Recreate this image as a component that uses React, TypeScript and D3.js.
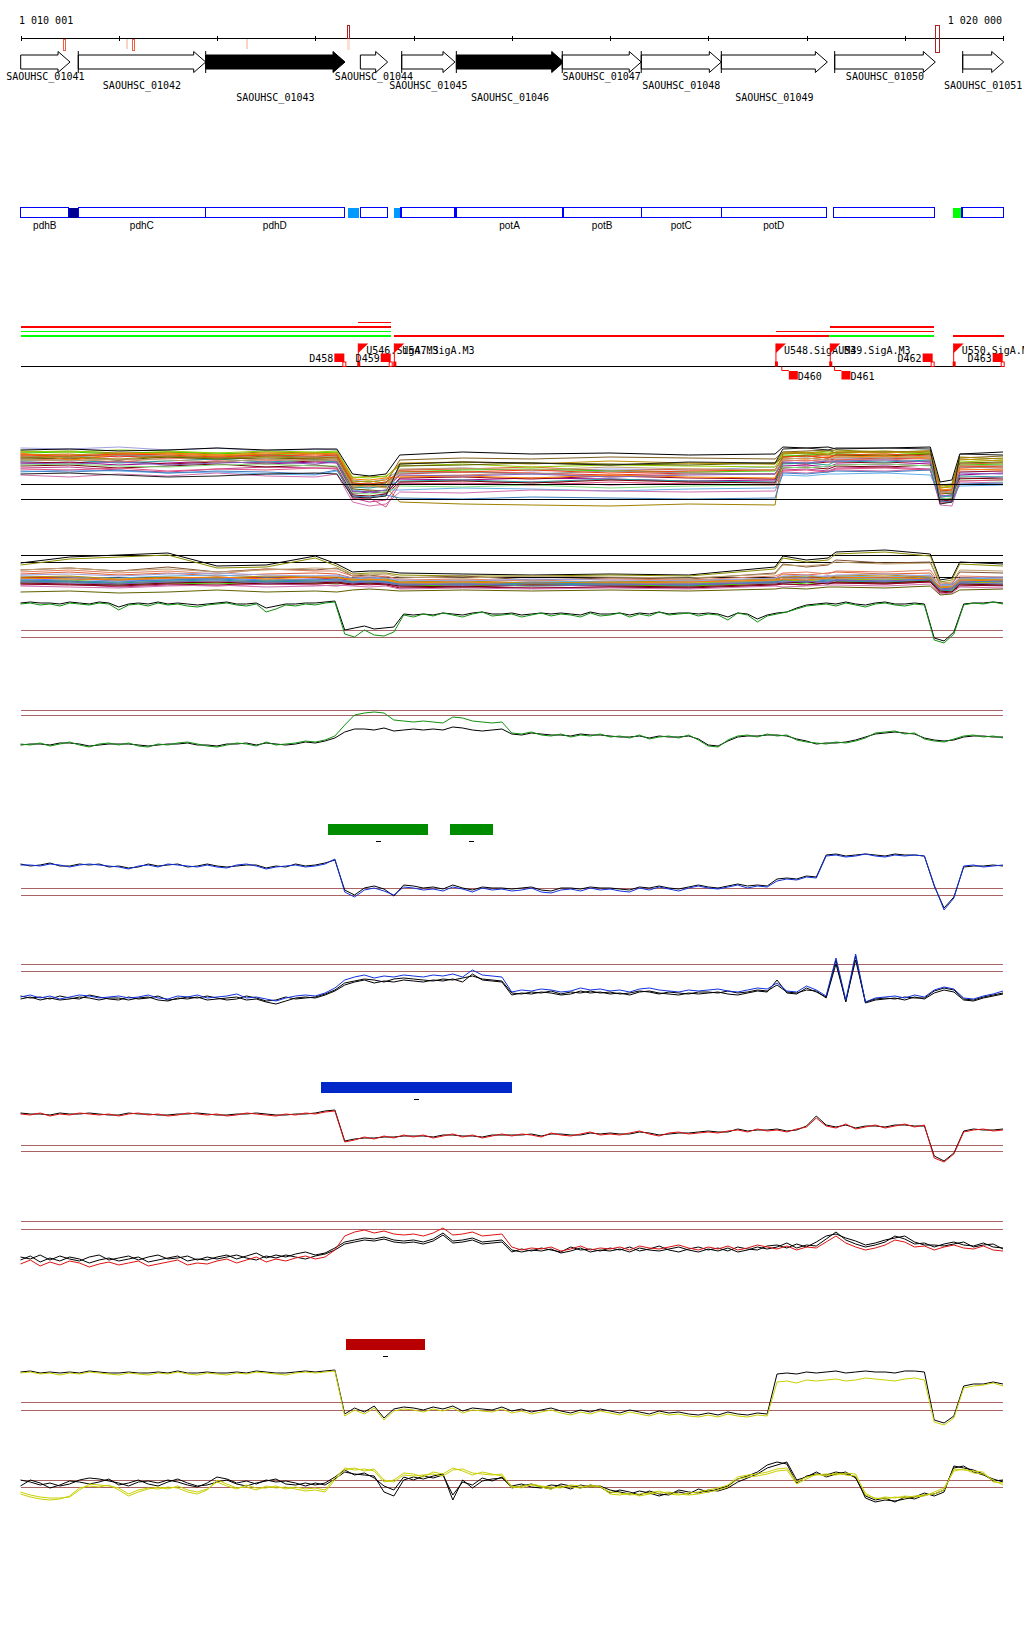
import React from 'react';
import * as d3 from 'd3';

// ---------------- DATA ----------------
// genomic window (kb offset from 1 010 000)
const AXIS_TICKS_KB = d3.range(0, 11);
const POS_LABELS = ["1 010 001", "1 020 000"];

const GENE_NAMES = ["SAOUHSC_01041","SAOUHSC_01042","SAOUHSC_01043","SAOUHSC_01044","SAOUHSC_01045","SAOUHSC_01046","SAOUHSC_01047","SAOUHSC_01048","SAOUHSC_01049","SAOUHSC_01050","SAOUHSC_01051"];
const GENE_START = [0.002, 0.588, 1.885, 3.459, 3.880, 4.436, 5.514, 6.318, 7.133, 8.287, 9.590];
const GENE_END   = [0.504, 1.885, 3.303, 3.737, 4.422, 5.529, 6.318, 7.133, 8.212, 9.311, 10.007];
const GENE_FILLED = [false,false,true,false,false,true,false,false,false,false,false];
const GENE_TICK = [false,true,true,false,true,true,true,true,true,true,true];
const GENE_ROW = [0,1,2,0,1,2,0,1,2,0,1];

// axis marks [startKb, endKb, kind]
const MARK_START = [0.436, 1.075, 1.138, 2.300, 3.326, 3.326, 9.311];
const MARK_END   = [0.460, 1.095, 1.158, 2.320, 3.350, 3.350, 9.356];
const MARK_KIND  = ["low","pale","low","pale","highTop","paleBelow","highTall"];

// annotation boxes
const ANN_START = [0.002,0.492,0.588,1.881,3.333,3.459,3.801,3.873,4.433,5.522,6.318,7.133,8.278,9.491,9.583];
const ANN_END   = [0.492,0.588,1.881,3.296,3.445,3.737,3.872,4.419,5.522,6.318,7.133,8.201,9.305,9.583,10.007];
const ANN_FILL  = ["none","#000090","none","none","#0099ff","none","#0099ff","none","none","none","none","none","none","#00ff00","none"];
const ANN_LABEL = ["pdhB","","pdhC","pdhD","","","","","potA","potB","potC","potD","","",""];

// transcript rows [start, end, row, colour]
const TX_START = [3.438, 0, 0, 0, 3.805, 8.226, 9.491, 7.689, 8.242];
const TX_END   = [3.768, 3.768, 3.768, 3.768, 8.226, 9.294, 10.007, 9.294, 9.294];
const TX_ROW   = [0, 1, 2, 3, 3, 3, 3, 2, 1];
const TX_COLOR = ["#ff0000","#ff0000","#00ff00","#00ff00","#ff0000","#00ff00","#ff0000","#ff0000","#ff0000"];

const PROM_NAMES = ["U546.SigA.M3","U547.SigA.M3","U548.SigA.M3","U549.SigA.M3","U550.SigA.M3"];
const PROM_POS = [3.438, 3.805, 7.689, 8.242, 9.498];

const TERM_NAMES = ["D458","D459","D460","D461","D462","D463"];
const TERM_POS = [3.296, 3.768, 7.820, 8.356, 9.284, 9.997];
const TERM_BELOW = [false,false,true,true,false,false];

// region bars over tracks [start,end]
const GREEN_BARS_START = [3.13, 4.37];
const GREEN_BARS_END = [4.15, 4.81];
const BLUE_BARS_START = [3.06];
const BLUE_BARS_END = [5.00];
const RED_BARS_START = [3.31];
const RED_BARS_END = [4.12];

// profile grid: every 100 bp
const GRID_KB = d3.range(0, 101).map(i => i / 10);

// ---- track B lower pair ----
const B_GREEN = [46,47,45,46,44,47,46,45,47,46, 40,45,46,44,47,45,46,44,43,45, 46,47,45,44,46,38,41,45,44,46, 45,47,48, 16,13,20,15,14,18,35, 33,36,34,37,35,33,36,38,34,35, 36,33,35,37,34,36,35,33,37,34, 35,37,33,36,34,38,35,36,37,34, 36,35,30,37,35,28,34, 36,38,41,44,45, 46,44,47,45,43,46,47,45,44,46,45, 10,7,16,45,47,46,48,46];
const B_BLACK = [47,48,47,47,46,48,47,46,48,47, 43,46,47,46,48,46,47,46,45,46, 47,48,46,46,47,42,44,46,46,47, 47,48,49, 20,22,24,21,22,23,36, 35,36,35,37,36,35,37,38,36,36, 37,35,36,37,36,37,36,35,38,36, 36,37,35,37,36,38,36,37,37,36, 37,36,33,37,36,31,35, 37,38,42,45,46, 47,46,48,46,45,47,48,46,46,47,46, 12,9,18,46,47,47,48,47];

// ---- track C ----
const C_GREEN = [16,15,17,14,16,18,15,13,16,17, 15,17,14,13,16,15,17,18,16,14, 13,15,17,16,14,18,15,16,17,19, 18,20,24, 35,45,47,48,47,40,39, 38,39,38,37,43,42,39,38,37,38, 27,26,28,25,24,26,23,25,24,26, 23,24,22,25,21,23,24,22,25,20, 14,13,20,24,25,23,26, 24,25,20,18,17, 16,18,17,19,22,27,28,29,26,27,21, 19,18,21,24,25,23,24,22];
const C_BLACK = [15,16,16,15,17,17,16,14,15,16, 16,16,15,14,15,16,16,17,15,15, 14,16,16,17,15,17,16,15,16,18, 17,19,22, 28,31,31,30,32,29,30, 31,30,31,30,33,32,30,29,30,31, 26,25,27,26,25,25,24,26,25,25, 24,23,23,24,22,24,23,23,24,21, 15,14,19,23,24,24,25, 25,24,21,19,16, 17,17,18,20,23,26,27,28,27,26,22, 20,19,20,23,24,24,23,23];

// ---- track D ----
const D_BLUE = [35,35,34,36,35,33,35,36,35,34, 33,31,34,35,33,36,35,34,33,35, 33,32,35,36,34,31,33,34,35,33, 34,36,41, 8,3,10,12,9,5,13, 12,10,11,9,13,11,8,12,10,11, 9,10,12,8,7,10,11,9,12,10, 11,9,8,12,10,13,11,9,12,14, 12,11,13,15,12,14,13, 19,21,20,23,22, 44,45,43,44,46,44,43,45,44,45,44, 15,-10,2,34,35,33,34,35];
const D_BLACK = [36,34,35,37,34,34,36,35,36,33, 34,32,33,36,34,35,36,33,34,36, 34,33,34,35,35,32,34,33,36,34, 35,37,40, 10,5,12,14,11,4,15, 14,12,13,11,15,12,10,13,12,12, 11,12,13,10,9,12,12,11,13,12, 12,11,10,13,12,14,12,11,13,15, 13,12,14,16,14,15,14, 21,22,21,24,23, 45,46,44,45,46,45,44,46,45,45,44, 14,-8,3,33,34,34,35,34];

// ---- track E ----
const E_BLUE = [13,15,12,14,11,13,15,14,12,13, 14,12,13,15,12,11,14,13,15,12, 13,14,16,12,13,11,9,12,14,15, 14,17,22, 30,33,35,32,34,33,35, 34,33,35,34,36,33,40,35,34,33, 18,20,19,21,20,18,19,22,20,21, 19,20,18,21,22,20,19,18,20,19, 20,21,19,18,20,22,21, 27,19,18,24,20, 14,52,10,56,8,12,13,14,12,15,13, 20,23,21,12,11,14,16,19];
const E_BLACK1 = [11,13,10,12,10,11,13,12,10,12, 12,10,12,13,10,9,12,11,13,10, 11,12,13,10,11,8,6,9,12,13, 12,15,19, 25,28,30,27,29,28,30, 29,28,30,29,31,28,36,30,29,28, 15,17,16,18,17,15,16,19,17,18, 16,17,15,18,19,17,16,15,17,16, 17,18,16,15,17,19,18, 30,17,16,22,18, 13,50,8,54,7,10,11,12,10,13,11, 17,20,18,10,9,12,14,16];
const E_BLACK2 = [14,12,13,11,14,12,11,15,13,11, 10,13,11,12,14,10,11,13,12,14, 12,10,11,14,12,9,10,13,11,12, 13,16,20, 27,29,31,30,28,31,32, 31,30,29,31,30,32,34,31,30,29, 17,16,18,17,19,16,18,17,19,17, 18,16,17,19,18,16,18,17,16,18, 18,17,19,17,18,20,19, 25,18,17,20,19, 12,46,9,50,8,11,12,11,13,12,12, 19,22,20,11,10,13,15,17];

// ---- track F ----
const F_RED = [46,45,47,44,46,45,47,46,45,46, 44,46,47,45,46,44,45,47,46,45, 46,44,45,47,46,45,44,46,45,47, 46,48,49, 18,20,23,21,24,22,25, 23,25,22,24,26,23,25,22,24,26, 24,26,25,23,27,25,24,26,28,25, 26,25,27,29,26,24,27,28,26,27, 28,27,29,30,28,31,29, 30,28,31,33,42, 34,32,36,31,33,35,32,34,36,33,35, 2,-2,6,28,30,31,29,30];
const F_BLACK = [47,46,46,45,47,46,46,47,46,45, 45,47,46,46,45,45,46,46,47,46, 45,45,46,46,47,46,45,45,46,46, 47,49,50, 19,21,22,22,23,23,24, 24,24,23,25,25,24,24,23,25,25, 25,25,26,24,26,26,25,25,27,26, 27,26,26,28,27,25,26,27,27,28, 29,28,28,31,29,30,30, 31,29,30,34,44, 35,33,35,32,34,34,33,35,35,34,34, 4,-1,7,29,31,30,30,31];

// ---- track G ----
const G_RED = [16,20,14,18,15,19,17,13,16,18, 15,17,19,14,16,18,20,15,17,16, 19,21,17,20,23,18,21,19,22,24, 21,23,30, 44,48,50,47,49,46,45, 46,44,47,52,45,46,48,44,45,46, 33,30,32,31,33,29,31,34,30,32, 31,33,30,34,32,31,33,35,32,30, 33,31,34,30,32,35,33, 31,34,30,33,32, 38,44,37,33,30,32,35,40,38,33,34, 30,33,35,32,31,34,30,29];
const G_BLACK1 = [20,24,18,22,19,23,21,17,20,22, 19,21,23,18,20,22,24,19,21,20, 23,25,21,24,27,22,25,23,26,28, 25,27,32, 38,40,42,41,43,40,39, 40,38,41,47,39,40,42,38,39,40, 30,28,30,29,31,27,29,32,28,30, 29,31,28,32,30,29,31,33,30,28, 31,29,32,28,30,33,31, 33,37,32,35,34, 41,48,40,36,33,35,38,44,41,36,37, 33,36,38,35,34,37,33,32];
const G_BLACK2 = [23,21,25,20,24,21,19,23,25,20, 22,24,20,23,25,21,22,24,20,23, 21,23,25,22,20,24,22,25,23,21, 24,26,30, 36,38,40,39,41,38,37, 38,36,39,45,37,38,40,36,37,38, 28,31,29,32,30,28,33,30,31,29, 32,30,33,29,31,34,30,28,31,33, 30,32,29,33,31,30,34, 35,32,36,33,38, 44,46,42,39,35,37,40,42,44,38,35, 35,34,36,38,33,35,36,31];

// ---- track H ----
const H_YELLOW = [57,58,56,57,55,57,56,58,57,56, 55,57,56,55,57,56,58,56,55,57, 56,55,57,56,58,57,56,55,57,58, 57,58,59, 14,20,16,22,10,19,21, 20,18,21,19,22,17,20,19,18,21, 17,19,16,18,20,17,15,18,16,19, 17,15,18,16,14,17,15,16,14,13, 15,13,16,14,13,15,14, 48,49,47,50,49, 50,51,49,50,52,51,50,49,51,52,50, 8,5,12,42,44,45,47,44];
const H_BLACK = [58,59,57,58,57,58,57,59,58,57, 57,58,57,57,58,57,59,57,57,58, 57,57,58,57,59,58,57,57,58,59, 58,59,60, 16,22,18,24,12,21,23, 22,20,23,21,24,19,22,21,20,23, 19,21,18,20,22,19,17,20,18,21, 19,17,20,18,16,19,17,18,16,15, 17,15,18,16,15,17,16, 56,57,56,58,57, 58,59,57,58,59,58,58,57,59,59,58, 10,7,14,44,46,46,48,46];

// ---- track I ----
const I_YELLOW1 = [18,15,13,12,12,13,20,26,25,24, 22,16,20,22,21,23,22,18,16,20, 30,26,22,23,20,24,22,23,21,19, 20,18,30, 40,42,39,41,30,28,35, 34,35,36,34,40,41,37,36,35,36, 22,24,25,23,21,24,23,22,25,23, 18,17,15,16,17,19,16,15,17,18, 20,22,25,33,35,36,38, 41,42,28,33,35, 36,35,37,36,15,12,11,13,12,14,15, 16,20,41,40,39,38,28,27];
const I_YELLOW2 = [16,13,11,10,11,14,22,24,23,25, 20,14,18,21,23,21,24,20,18,21, 28,24,21,25,22,22,24,21,23,21, 22,20,32, 42,40,41,39,28,30,37, 36,33,38,36,42,39,35,38,36,34, 24,22,26,24,23,22,25,24,23,24, 16,15,17,14,16,17,18,16,15,16, 18,20,23,31,33,34,36, 39,40,26,31,36, 34,37,35,34,17,11,13,12,14,13,14, 18,22,39,41,37,36,30,25];
const I_BLACK1 = [30,28,25,27,24,26,30,32,31,29, 27,24,28,29,27,30,28,25,23,27, 33,31,27,29,26,30,28,29,27,24, 27,25,31, 38,36,35,34,18,14,30, 33,31,34,36,10,30,22,29,31,32, 24,26,23,22,25,24,21,25,23,24, 20,18,16,19,17,14,17,18,16,21, 18,21,24,31,34,38,45, 48,46,27,34,36, 35,38,36,33,12,8,10,9,11,13,17, 14,18,44,42,40,36,29,30];
const I_BLACK2 = [24,30,27,22,25,29,28,26,28,31, 25,27,30,26,24,28,31,27,24,25, 28,30,26,24,27,29,31,26,25,27, 25,27,33, 40,35,37,32,24,20,33, 30,34,32,35,15,28,25,32,29,33, 22,24,26,23,21,26,24,22,25,23, 17,20,18,15,19,16,15,20,18,17, 20,19,22,28,32,36,42, 45,48,30,33,38, 33,36,38,32,14,10,12,8,13,11,15, 16,20,42,44,38,35,31,28];

// ---- bundle tracks (many samples) ----
const BUNDLE_KB = [0, 0.5, 1.0, 1.5, 2.0, 2.5, 3.0, 3.22, 3.38, 3.55, 3.72, 3.86, 4.5, 5.2, 6.0, 6.8, 7.68, 7.76, 8.0, 8.22, 8.3, 8.8, 9.26, 9.36, 9.48, 9.56, 10];
const A_COLORS = ["#a0a0e0","#8c8c00","#e06030","#e03030","#a00090","#c03c8c","#60b0f0","#40d000","#90d000","#806020","#000000","#900020","#e08060","#d070b0","#c09000","#909090","#20a0a0","#606000","#ff8000","#700000","#8060c0","#f04010","#80e080","#a08000","#e05080","#4080c0","#c0a070","#202020"];
const A_VALUES = [
 [62,61,63,60,62,59,61,60, 30,28,31, 40,42,39,41,40,43, 48,47,50, 52,51,53, 20,21, 44,45],
 [58,59,57,58,56,58,57,57, 32,34,33, 46,48,47,45,47,46, 58,57,59, 60,58,59, 22,24, 50,52],
 [55,56,53,57,55,54,56,55, 26,27,25, 40,41,43,39,41,40, 53,55,54, 55,54,56, 18,17, 46,47],
 [53,51,54,52,53,50,52,53, 22,24,23, 36,38,37,35,37,36, 50,49,51, 50,52,51, 15,14, 42,44],
 [46,48,45,47,49,46,48,47, 16,18,17, 31,30,32,31,29,30, 44,45,43, 46,45,47, 10,12, 35,37],
 [42,43,40,38,41,43,42,41, 12,8,10, 27,26,28,25,27,28, 40,41,39, 42,43,41, 8,9, 31,33],
 [38,40,39,37,38,36,35,39, 20,18,20, 20,22,21,19,21,22, 35,34,36, 36,37,35, 14,15, 24,25],
 [57,58,56,58,57,55,57,58, 28,29,27, 38,40,41,39,38,39, 54,55,56, 56,55,57, 20,19, 45,46],
 [59,58,60,59,57,59,58,59, 33,32,34, 44,46,43,45,44,43, 56,57,58, 57,58,56, 22,24, 48,50],
 [52,54,55,53,51,54,53,53, 26,25,27, 50,52,51,53,52,51, 58,59,60, 57,58,59, 25,26, 52,54],
 [60,61,59,60,62,60,61,61, 36,34,36, 55,58,56,57,55,56, 63,62,63, 61,62,63, 28,30, 56,58],
 [48,47,49,46,48,47,49,49, 18,19,17, 32,33,31,34,32,31, 47,46,48, 48,47,49, 12,11, 38,39],
 [50,51,48,52,50,49,51,50, 24,23,25, 34,35,37,33,36,36, 49,50,48, 51,50,52, 16,17, 40,41],
 [35,33,36,34,37,34,33,36, 8,4,6, 18,17,20,19,18,19, 38,37,39, 40,39,41, 5,4, 28,27],
 [56,55,57,56,54,56,57,56, 29,28,30, 47,48,46,49,47,46, 57,58,56, 58,57,59, 23,22, 51,49],
 [54,53,55,54,52,55,53,55, 27,26,28, 37,38,36,39,37,36, 51,52,50, 53,52,54, 19,18, 43,42],
 [49,50,47,49,51,48,50,48, 23,22,24, 29,30,28,31,29,28, 46,47,45, 49,48,50, 13,14, 34,33],
 [51,52,50,53,51,52,51,51, 21,20,19, 44,45,47,46,45,47, 53,54,52, 55,54,56, 17,16, 47,48],
 [57,50,56,57,55,57,56,57, 31,30,32, 33,34,32,35,33,32, 52,51,53, 53,54,52, 21,20, 41,40],
 [44,45,42,44,46,43,45,43, 15,14,16, 28,29,27,30,28,27, 42,43,41, 44,43,45, 9,10, 32,31],
 [47,46,48,45,47,48,46,48, 19,18,20, 35,34,36,33,35,36, 48,47,49, 49,50,48, 14,15, 37,36],
 [55,54,56,55,53,55,54,55, 27,26,28, 39,38,40,37,39,40, 53,54,52, 55,56,54, 19,20, 44,43],
 [45,46,44,43,45,46,44,44, 17,16,18, 24,23,25,22,24,25, 43,42,44, 45,46,44, 11,12, 30,29],
 [53,53,51,54,52,53,52,52, 24,25,23, 8,6,5,4,6,5, 56,57,55, 58,59,57, 24,25, 53,51],
 [41,40,42,39,41,40,42,42, 11,12,3, 26,27,25,28,26,25, 39,40,38, 41,42,40, 7,8, 29,30],
 [39,38,40,37,39,38,36,40, 14,13,15, 12,11,13,12,11,12, 37,36,38, 39,38,40, 9,8, 26,27],
 [50,49,51,50,48,51,49,51, 23,24,22, 41,42,40,43,41,40, 51,52,50, 53,52,54, 17,18, 45,44],
 [36,37,35,33,34,36,37,36, 13,12,14, 46,48,47,45,48,47, 61,62,60, 62,62,61, 6,8, 56,55],
];
const A_REFS = [25.7, 10.7];

const B_COLORS = ["#000000","#8c8c00","#805030","#e06030","#e03030","#a00090","#6080ff","#60b0f0","#40d000","#90d000","#c03c8c","#e08060","#909090","#900020","#c09000","#d070b0","#a0a0e0","#20a0a0","#c0a070","#606000","#ff8000","#700000","#4080c0","#8060c0"];
const B_VALUES = [
 [37,43,45,47,34,35,44,36, 28,29,29, 27,26,25,26,25,33, 44,40,42, 48,50,46, 20,22, 38,36],
 [35,41,43,45,32,33,42,34, 26,27,27, 25,24,24,25,24,31, 42,38,40, 46,48,44, 18,20, 36,34],
 [30,32,29,33,28,31,30,32, 24,25,23, 22,24,20,22,21,27, 36,33,35, 40,37,38, 15,16, 28,27],
 [26,28,25,27,24,26,27,26, 22,21,22, 18,19,17,19,18,22, 26,25,27, 28,26,27, 14,15, 22,21],
 [22,23,20,22,21,23,22,21, 20,19,20, 16,17,16,17,16,20, 23,22,24, 23,22,24, 12,13, 20,19],
 [18,19,16,18,17,19,18,17, 17,16,17, 15,14,16,15,14,18, 20,19,18, 20,18,19, 10,11, 17,18],
 [20,21,19,20,22,20,21,20, 19,18,19, 17,18,16,17,18,19, 21,20,22, 21,20,22, 13,12, 19,20],
 [24,23,22,24,25,23,24,24, 21,22,21, 19,20,19,18,20,21, 23,23,24, 24,23,25, 15,16, 21,22],
 [17,18,15,17,16,18,17,16, 18,17,18, 14,15,14,15,14,17, 18,16,17, 18,17,19, 9,10, 16,15],
 [19,20,17,19,18,20,19,18, 20,19,20, 16,17,15,16,17,19, 20,19,21, 21,20,22, 11,12, 18,17],
 [15,16,13,15,14,16,15,14, 16,15,16, 13,14,12,13,12,15, 16,15,17, 17,16,18, 8,9, 15,14],
 [28,30,27,29,26,31,29,29, 24,23,24, 20,21,19,21,20,24, 27,28,26, 29,28,30, 16,17, 24,23],
 [21,22,20,21,23,21,20,20, 19,20,19, 17,16,18,17,16,19, 21,22,20, 22,21,23, 12,11, 19,18],
 [16,15,14,16,15,17,16,17, 15,16,15, 12,13,12,13,12,15, 16,15,17, 17,16,18, 7,8, 14,15],
 [23,24,21,23,22,24,23,22, 21,20,21, 18,19,17,18,19,21, 23,24,22, 24,25,23, 13,14, 21,20],
 [14,13,12,14,15,13,14,15, 14,13,14, 11,12,11,12,11,14, 13,14,15, 15,14,16, 6,7, 13,12],
 [25,26,24,26,27,25,24,25, 22,23,22, 20,19,21,20,19,22, 24,25,23, 25,26,24, 15,14, 22,23],
 [19,18,17,19,20,18,19,19, 18,17,18, 15,16,15,16,15,18, 17,18,19, 19,18,20, 10,9, 17,16],
 [30,32,29,31,28,30,32,31, 26,25,26, 23,22,24,23,22,26, 35,34,36, 38,36,37, 17,18, 30,29],
 [8,9,7,8,10,8,9,8, 10,11,10, 9,10,9,10,9,11, 12,11,13, 13,12,14, 5,6, 10,11],
 [22,21,20,22,23,21,23,23, 20,21,20, 17,18,16,17,18,20, 21,20,22, 22,23,21, 12,13, 19,20],
 [17,16,15,17,18,16,17,18, 16,17,16, 14,13,15,14,13,16, 17,18,16, 18,17,19, 9,8, 16,15],
 [20,19,18,20,21,19,20,21, 18,19,18, 16,15,17,16,15,18, 19,18,20, 20,19,21, 11,12, 18,19],
 [18,17,16,18,19,17,18,19, 17,18,17, 15,16,14,15,16,17, 18,19,17, 20,19,21, 10,11, 17,16],
];
const B_REFS = [44.7, 37.3, 22.3];

// thresholds for the paired-profile tracks
const C_REFS = [50, 44.5];
const BLOW_REFS = [19.7, 12.7];
const D_REFS = [11.7, 4.7];
const E_REFS = [45.6, 38.3];
const F_REFS = [14.5, 8.4];
const G_REFS = [58.3, 51];
const H_REFS = [27.4, 20];
const I_REFS = [29.7, 22.7];

// ---------------- DRAWING ----------------
const MONO = "'DejaVu Sans Mono', monospace";
const SANS = "'Liberation Sans', Arial, sans-serif";
const REF_COLOR = "#a86464";

const x = d3.scaleLinear().domain([0, 10]).range([20.5, 1003]);

// each profile track: baseline pixel (value 0) – 1 unit per px
function yFor(base: number) {
  return d3.scaleLinear().domain([0, 100]).range([base, base - 100]);
}

function Profile({ values, base, color, width = 1 }: { values: number[]; base: number; color: string; width?: number }) {
  const y = yFor(base);
  const gen = d3.line<number>().x((_, i) => x(GRID_KB[i])).y(d => y(d));
  return <path d={gen(values) || ''} fill="none" stroke={color} strokeWidth={width} />;
}

function Bundle({ values, colors, base }: { values: number[][]; colors: string[]; base: number }) {
  const y = yFor(base);
  const gen = d3.line<number>().x((_, i) => x(BUNDLE_KB[i])).y(d => y(d));
  return (
    <g>
      {values.map((v, k) => (
        <path key={k} d={gen(v) || ''} fill="none" stroke={colors[k % colors.length]} strokeWidth={1} />
      ))}
    </g>
  );
}

function Refs({ refs, base, color }: { refs: number[]; base: number; color: string }) {
  const y = yFor(base);
  return (
    <g shapeRendering="crispEdges">
      {refs.map((r, k) => (
        <line key={k} x1={x(0)} x2={x(10)} y1={y(r)} y2={y(r)} stroke={color} strokeWidth={1} />
      ))}
    </g>
  );
}

function Bars({ starts, ends, color, top }: { starts: number[]; ends: number[]; color: string; top: number }) {
  return (
    <g shapeRendering="crispEdges">
      {starts.map((s, k) => {
        const cx = (x(s) + x(ends[k])) / 2;
        return (
          <g key={k}>
            <rect x={x(s)} y={top} width={x(ends[k]) - x(s)} height={11} fill={color} />
            <line x1={cx - 2.5} x2={cx + 2.5} y1={top + 17.5} y2={top + 17.5} stroke="#000" strokeWidth={1} />
          </g>
        );
      })}
    </g>
  );
}

export default function App() {
  const axisY = 38.5;
  const geneTop = 51.5, geneBot = 72.5, bodyTop = 55, bodyBot = 69, geneMid = 62;
  const rowBase = [79.5, 89, 101];
  const annTop = 207.5, annH = 10;
  const txRowY = [322.5, 327, 331.5, 336];
  const baseY = 366.5;

  return (
    <svg width={1024} height={1640} style={{ position: 'absolute', left: 0, top: 0, background: '#fff' }}>
      <rect x={0} y={0} width={1024} height={1640} fill="#fff" />

      {/* coordinate axis */}
      <g shapeRendering="crispEdges">
        <line x1={x(0)} x2={x(10)} y1={axisY} y2={axisY} stroke="#000" />
        {AXIS_TICKS_KB.map(t => (
          <line key={t} x1={Math.round(x(t)) + 0.5} x2={Math.round(x(t)) + 0.5} y1={36} y2={41} stroke="#000" />
        ))}
      </g>
      <text x={19} y={24} fontFamily={MONO} fontSize={10}>{POS_LABELS[0]}</text>
      <text x={1002} y={24} fontFamily={MONO} fontSize={10} textAnchor="end">{POS_LABELS[1]}</text>

      {/* axis marks */}
      <g shapeRendering="crispEdges">
        {MARK_START.map((s, k) => {
          const kind = MARK_KIND[k];
          const x0 = x(s), w = Math.max(2, x(MARK_END[k]) - x(s));
          if (kind === 'low') return <rect key={k} x={x0} y={39} width={w} height={11} fill="#fff" stroke="#f06040" />;
          if (kind === 'pale') return <rect key={k} x={x0} y={39} width={w} height={10} fill="#f8d4c4" />;
          if (kind === 'paleBelow') return <rect key={k} x={x0} y={39} width={w} height={11} fill="#fbe0d6" />;
          if (kind === 'highTop') return <rect key={k} x={x0} y={25.5} width={w} height={12.5} fill="#fff" stroke="#b02020" />;
          return <rect key={k} x={x0} y={25.5} width={w} height={26.5} fill="none" stroke="#b02020" />;
        })}
      </g>

      {/* genes */}
      <g>
        {GENE_NAMES.map((name, k) => {
          const x0 = x(GENE_START[k]), x1 = x(GENE_END[k]);
          const head = Math.min(12, (x1 - x0) * 0.5);
          const xh = x1 - head;
          const d = `M${x0},${bodyTop}L${xh},${bodyTop}L${xh},${geneTop}L${x1},${geneMid}L${xh},${geneBot}L${xh},${bodyBot}L${x0},${bodyBot}Z`;
          const cx = (x0 + x1) / 2;
          return (
            <g key={name}>
              <path d={d} fill={GENE_FILLED[k] ? '#000' : '#fff'} stroke="#000" strokeWidth={1} />
              {GENE_TICK[k] && <line x1={x0} x2={x0} y1={geneTop - 0.5} y2={geneBot + 0.5} stroke="#000" />}
              <text x={cx} y={rowBase[GENE_ROW[k]]} fontFamily={MONO} fontSize={10} textAnchor="middle">{name}</text>
            </g>
          );
        })}
      </g>

      {/* annotation boxes */}
      <g shapeRendering="crispEdges">
        {ANN_START.map((s, k) => (
          <rect key={k} x={x(s)} y={annTop} width={x(ANN_END[k]) - x(s)} height={annH}
            fill={ANN_FILL[k] === 'none' ? '#fff' : ANN_FILL[k]} stroke={ANN_FILL[k] === 'none' ? '#0000ff' : 'none'} strokeWidth={1.2} />
        ))}
      </g>
      {ANN_START.map((s, k) => ANN_LABEL[k] ? (
        <text key={k} x={(x(s) + x(ANN_END[k])) / 2} y={228.5} fontFamily={SANS} fontSize={10} textAnchor="middle">{ANN_LABEL[k]}</text>
      ) : null)}

      {/* transcripts */}
      <g shapeRendering="crispEdges">
        {TX_START.map((s, k) => (
          <line key={k} x1={x(s)} x2={x(TX_END[k])} y1={txRowY[TX_ROW[k]]} y2={txRowY[TX_ROW[k]]} stroke={TX_COLOR[k]} strokeWidth={1.2} />
        ))}
        <line x1={x(0)} x2={x(10.007)} y1={baseY} y2={baseY} stroke="#000" strokeWidth={1.2} />
      </g>

      {/* promoters */}
      {PROM_NAMES.map((n, k) => {
        const px = x(PROM_POS[k]);
        return (
          <g key={n}>
            <line x1={px} x2={px} y1={343.5} y2={baseY} stroke="#ff0000" />
            <path d={`M${px},343.5L${px + 10},343.5L${px},353Z`} fill="#ff0000" />
            <rect x={px - 1} y={361.5} width={3} height={5} fill="#ff0000" />
            <text x={px + 8} y={353.5} fontFamily={MONO} fontSize={10}>{n}</text>
          </g>
        );
      })}

      {/* terminators */}
      {TERM_NAMES.map((n, k) => {
        const px = x(TERM_POS[k]);
        if (TERM_BELOW[k]) {
          return (
            <g key={n}>
              <path d={`M${px - 7},${baseY}L${px - 7},370.5L${px},370.5`} fill="none" stroke="#ff0000" />
              <rect x={px} y={371} width={9} height={8.5} fill="#ff0000" />
              <text x={px + 9} y={379.5} fontFamily={MONO} fontSize={10}>{n}</text>
            </g>
          );
        }
        return (
          <g key={n}>
            <rect x={px - 10} y={353.5} width={10} height={8.5} fill="#ff0000" />
            <rect x={px - 1.5} y={362} width={3} height={4.5} fill="#fff" stroke="#ff0000" />
            <text x={px - 11} y={362} fontFamily={MONO} fontSize={10} textAnchor="end">{n}</text>
          </g>
        );
      })}

      {/* Track A */}
      <Bundle values={A_VALUES} colors={A_COLORS} base={510} />
      <Refs refs={A_REFS} base={510} color="#000" />

      {/* Track B */}
      <Refs refs={B_REFS} base={600} color="#000" />
      <Bundle values={B_VALUES} colors={B_COLORS} base={600} />
      <Refs refs={BLOW_REFS} base={650} color={REF_COLOR} />
      <Profile values={B_BLACK} base={650} color="#000" />
      <Profile values={B_GREEN} base={650} color="#109010" />

      {/* Track C */}
      <Refs refs={C_REFS} base={760} color={REF_COLOR} />
      <Profile values={C_BLACK} base={760} color="#000" />
      <Profile values={C_GREEN} base={760} color="#109010" />

      {/* Track D */}
      <Bars starts={GREEN_BARS_START} ends={GREEN_BARS_END} color="#008c00" top={824} />
      <Refs refs={D_REFS} base={900} color={REF_COLOR} />
      <Profile values={D_BLACK} base={900} color="#000" />
      <Profile values={D_BLUE} base={900} color="#1030e0" />

      {/* Track E */}
      <Refs refs={E_REFS} base={1010} color={REF_COLOR} />
      <Profile values={E_BLACK1} base={1010} color="#000" />
      <Profile values={E_BLACK2} base={1010} color="#000" />
      <Profile values={E_BLUE} base={1010} color="#1030e0" />

      {/* Track F */}
      <Bars starts={BLUE_BARS_START} ends={BLUE_BARS_END} color="#0028c8" top={1082} />
      <Refs refs={F_REFS} base={1160} color={REF_COLOR} />
      <Profile values={F_BLACK} base={1160} color="#000" />
      <Profile values={F_RED} base={1160} color="#e01010" />

      {/* Track G */}
      <Refs refs={G_REFS} base={1280} color={REF_COLOR} />
      <Profile values={G_BLACK1} base={1280} color="#000" />
      <Profile values={G_BLACK2} base={1280} color="#000" />
      <Profile values={G_RED} base={1280} color="#e01010" />

      {/* Track H */}
      <Bars starts={RED_BARS_START} ends={RED_BARS_END} color="#b80000" top={1339} />
      <Refs refs={H_REFS} base={1430} color={REF_COLOR} />
      <Profile values={H_BLACK} base={1430} color="#000" />
      <Profile values={H_YELLOW} base={1430} color="#c8d000" />

      {/* Track I */}
      <Refs refs={I_REFS} base={1510} color={REF_COLOR} />
      <Profile values={I_BLACK1} base={1510} color="#000" />
      <Profile values={I_BLACK2} base={1510} color="#000" />
      <Profile values={I_YELLOW1} base={1510} color="#c8d000" />
      <Profile values={I_YELLOW2} base={1510} color="#c8d000" />
    </svg>
  );
}
